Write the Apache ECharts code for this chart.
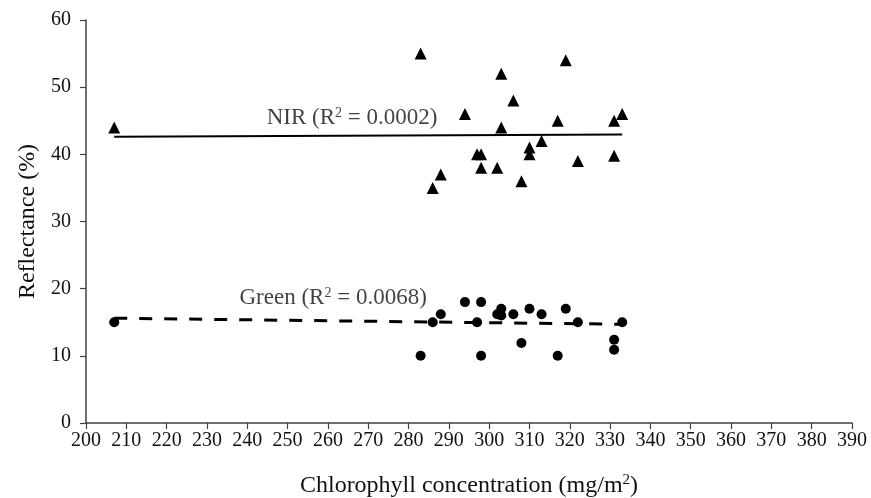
<!DOCTYPE html>
<html>
<head>
<meta charset="utf-8">
<script src="https://cdn.jsdelivr.net/npm/echarts@6/dist/echarts.min.js"></script>
<style>
  html, body { margin: 0; padding: 0; background: #fff; }
  #chart { width: 871px; height: 498px; }
</style>
</head>
<body>
<div id="chart"></div>
<script>
// values
const nirPoints = [
  [207, 44], [283, 55], [286, 35], [288, 37], [294, 46], [297, 40], [298, 40],
  [298, 38], [302, 38], [303, 52], [303, 44], [306, 48], [308, 36], [310, 41],
  [310, 40], [313, 42], [317, 45], [319, 54], [322, 39], [331, 45], [331, 39.8],
  [333, 46]
];
const greenPoints = [
  [207, 15], [283, 10], [286, 15], [288, 16.2], [294, 18], [297, 15], [298, 18],
  [298, 10], [302, 16.2], [303, 17], [303, 16], [306, 16.2], [308, 11.9], [310, 17],
  [313, 16.2], [317, 10], [319, 17], [322, 15], [331, 12.4], [331, 10.9], [333, 15]
];
const nirTrend = [[207, 42.6], [333, 42.95]];
const greenTrend = [[207, 15.6], [333, 14.7]];
const xTicks = { min: 200, max: 390, step: 10 };
const yTicks = { min: 0, max: 60, step: 10 };

const chart = echarts.init(document.getElementById('chart'));
const font = '"Liberation Serif", "Times New Roman", serif';
const axisColor = '#404040';
const ink = '#111';

const option = {
  animation: false,
  backgroundColor: '#fff',
  textStyle: { fontFamily: font, color: ink },
  grid: { left: 86, right: 19, top: 20, bottom: 75, containLabel: false, outerBoundsMode: 'none' },
  xAxis: {
    type: 'value',
    min: xTicks.min, max: xTicks.max, interval: xTicks.step,
    name: 'Chlorophyll concentration (mg/m{sup|2})',
    nameLocation: 'middle',
    nameGap: 50,
    nameTextStyle: {
      fontFamily: font, fontSize: 24, color: ink,
      rich: { sup: { fontFamily: font, fontSize: 15, verticalAlign: 'top', padding: [0, 0, 11, 0], color: ink } }
    },
    axisLine: { lineStyle: { color: axisColor, width: 1.5 } },
    axisTick: { show: true, inside: false, length: 6, lineStyle: { color: axisColor, width: 1.2 } },
    axisLabel: { fontFamily: font, fontSize: 20, color: ink, margin: 8, interval: 0, hideOverlap: false },
    splitLine: { show: false }
  },
  yAxis: {
    type: 'value',
    min: yTicks.min, max: yTicks.max, interval: yTicks.step,
    name: 'Reflectance (%)',
    nameLocation: 'middle',
    nameGap: 46,
    nameTextStyle: { fontFamily: font, fontSize: 24, color: ink },
    axisLine: { show: true, lineStyle: { color: axisColor, width: 1.5 } },
    axisTick: { show: true, inside: false, length: 6, lineStyle: { color: axisColor, width: 1.2 } },
    axisLabel: { fontFamily: font, fontSize: 20, color: ink, margin: 15 },
    splitLine: { show: false }
  },
  series: [
    {
      name: 'NIR',
      type: 'scatter',
      symbol: 'triangle',
      symbolSize: 12,
      itemStyle: { color: '#000', opacity: 1 },
      data: nirPoints
    },
    {
      name: 'Green',
      type: 'scatter',
      symbol: 'circle',
      symbolSize: 10,
      itemStyle: { color: '#000', opacity: 1 },
      data: greenPoints
    },
    {
      name: 'NIR trend',
      type: 'line',
      symbol: 'none',
      lineStyle: { color: '#000', width: 2 },
      data: nirTrend,
      z: 1
    },
    {
      name: 'Green trend',
      type: 'line',
      symbol: 'none',
      lineStyle: { color: '#000', width: 3, type: [13, 12] },
      data: greenTrend,
      z: 1
    },
    {
      name: 'labels',
      type: 'scatter',
      symbolSize: 0,
      silent: true,
      data: [
        { value: [266, 45.4], label: { formatter: 'NIR (R{sup|2} = 0.0002)' } },
        { value: [261.3, 18.6], label: { formatter: 'Green (R{sup|2} = 0.0068)' } }
      ],
      label: {
        show: true,
        position: 'inside',
        fontFamily: font,
        fontSize: 23,
        color: ink,
        rich: { sup: { fontFamily: font, fontSize: 14, verticalAlign: 'top', padding: [0, 0, 10, 0], color: ink } }
      }
    }
  ]
};

chart.setOption(option);
</script>
</body>
</html>
